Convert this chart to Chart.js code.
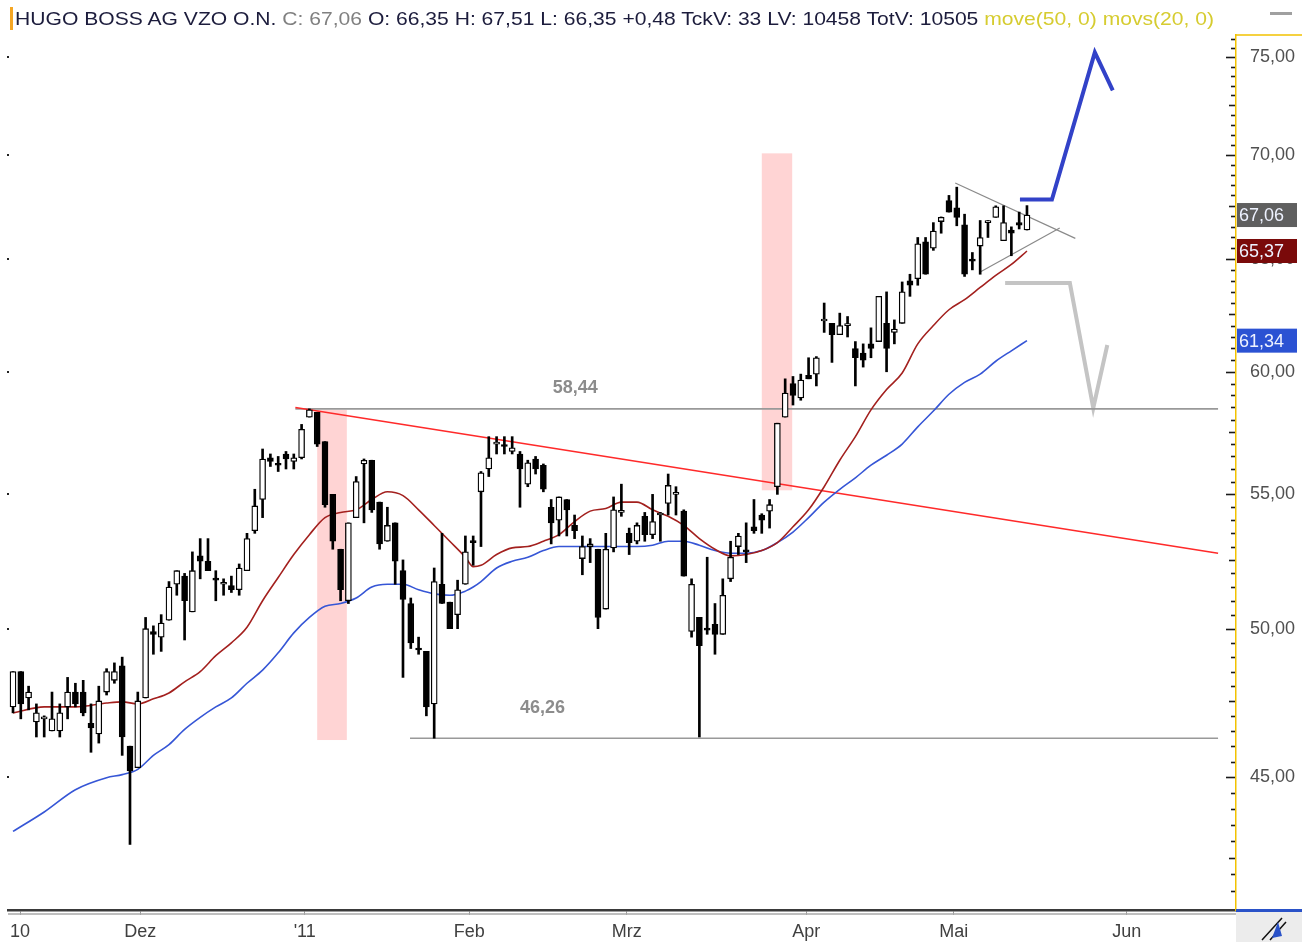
<!DOCTYPE html>
<html>
<head>
<meta charset="utf-8">
<script src="https://cdn.jsdelivr.net/npm/chart.js@4.4.1/dist/chart.umd.min.js"></script>
<style>
  body { margin: 0; background: #fff; }
  #wrap { position: relative; width: 1302px; height: 942px; }
  #head {
    position: absolute; left: 10px; top: 7px;
    border-left: 3px solid #f5a623; padding-left: 2px;
    font: 19px "Liberation Sans", Arial, sans-serif; line-height: 23px;
    white-space: nowrap; color: #1c1c3c; transform-origin: 0 0;
  }
  #head .c { color: #808080; }
  #head .m { color: #d6cc30; }
</style>
</head>
<body>
<div id="wrap">
  <canvas id="chart"></canvas>
  <div id="head"><span id="headText">HUGO BOSS AG VZO O.N. <span class="c">C: 67,06</span> O: 66,35 H: 67,51 L: 66,35 +0,48 TckV: 33 LV: 10458 TotV: 10505 <span class="m">move(50, 0) movs(20, 0)</span></span></div>
</div>
<script>
// daily candles, index 0 = first visible session
const opens = [47.3,48.5,47.6,46.8,46.9,46.5,46.5,47.3,47.8,47.8,46.75,46.4,47.8,48.2,48.7,46.0,45.3,47.6,49.9,49.7,
  50.3,51.6,51.9,50.6,52.65,52.45,51.8,51.6,51.55,51.4,52.1,53.6,54.8,56.45,56.2,56.6,56.3,56.45,58.1,58.3,
  57.1,55.0,52.9,51.0,54.1,56.2,56.35,54.7,53.2,53.9,52.1,50.9,49.3,49.2,47.4,51.6,50.95,50.5,51.6,53.2,
  55.1,56.0,57.0,56.95,56.7,56.6,55.4,56.4,56.15,54.5,54.0,54.8,53.8,52.55,53.0,52.9,50.7,52.95,54.3,53.5,
  53.2,54.15,53.45,54.2,54.65,55.0,54.35,49.9,50.4,50.0,50.15,49.8,51.8,53.0,52.85,53.75,54.2,54.35,55.3,58.1,
  59.5,58.9,59.85,59.9,62.2,62.1,61.6,62.0,61.0,60.8,61.2,61.3,62.1,61.7,62.1,64.0,64.1,65.8,65.5,66.75,
  67.75,67.4,66.6,65.0,65.6,66.7,66.95,65.85,66.35,66.7,66.35];
const highs = [48.5,48.5,48.0,47.4,47.0,47.8,47.4,48.3,48.1,48.2,47.4,48.0,48.6,48.8,49.0,46.0,47.8,50.4,50.1,50.5,
  51.7,52.1,52.0,52.8,53.3,53.3,52.1,51.8,51.9,52.35,53.5,55.2,56.8,56.6,56.5,56.7,56.6,57.8,58.44,58.3,
  57.1,55.0,52.9,53.9,55.7,56.4,56.35,54.7,54.5,53.9,52.5,51.1,49.7,49.2,52.2,53.5,50.95,51.75,53.4,53.4,
  55.9,57.3,57.3,57.3,57.3,56.7,56.35,56.5,56.2,54.8,54.9,54.8,54.2,53.4,53.3,52.9,53.5,54.9,55.4,53.7,
  53.9,54.3,55.0,54.3,55.8,55.3,54.4,51.8,50.4,52.6,50.9,51.8,53.2,53.5,53.9,54.8,54.25,54.8,57.85,59.7,
  59.8,59.9,60.6,60.65,63.0,62.1,62.55,62.4,61.3,61.2,61.9,63.3,63.5,62.25,63.95,64.3,66.0,66.0,66.7,66.97,
  68.0,68.4,67.1,65.3,66.8,66.8,67.5,67.5,66.5,67.2,67.51];
const lows = [47.1,46.9,47.2,46.3,46.3,46.5,46.3,46.9,47.3,47.0,45.8,46.1,47.7,48.1,45.7,42.9,45.3,47.6,49.1,49.2,
  50.3,51.2,49.6,50.6,51.8,52.1,51.0,51.2,51.3,51.2,52.1,53.5,54.1,56.1,55.9,56.0,56.0,56.4,58.1,56.9,
  54.5,52.9,51.0,50.9,54.1,53.9,54.3,52.9,53.2,51.6,48.3,49.3,49.1,47.0,46.26,50.9,50.0,50.0,51.6,52.3,
  53.0,55.7,56.6,56.6,56.6,54.5,55.3,55.8,55.1,53.1,53.4,53.4,53.3,51.95,52.4,50.0,50.7,52.8,54.15,52.7,
  53.1,53.2,53.3,53.2,54.2,54.2,51.9,49.7,46.3,49.8,49.1,49.8,51.7,52.7,52.4,53.5,53.5,53.7,55.0,58.1,
  58.6,58.8,59.7,59.4,61.7,60.4,61.6,61.5,59.4,60.2,60.6,61.3,60.0,61.2,62.1,63.3,63.8,64.3,65.4,66.2,
  67.2,66.55,64.2,64.5,64.3,66.0,66.95,65.85,65.15,66.4,66.35];
const closes = [48.5,47.4,47.8,47.1,46.95,46.9,47.1,47.8,47.4,47.1,46.6,47.5,48.5,48.5,46.3,45.2,47.5,50.0,49.8,50.2,
  51.5,52.1,51.0,52.1,52.45,52.1,51.75,51.6,51.4,52.2,53.3,54.55,56.4,56.3,56.15,56.4,56.45,57.6,58.4,57.0,
  54.6,53.2,51.4,53.9,55.5,56.35,54.4,53.1,53.8,52.45,51.05,49.5,49.25,47.3,51.7,50.9,50.0,51.4,52.8,53.15,
  55.85,56.45,57.0,56.9,56.85,56.0,56.25,56.0,55.2,53.9,54.9,54.4,53.6,53.0,53.1,50.4,52.9,54.4,54.3,53.15,
  53.8,53.45,53.95,54.25,55.35,55.0,51.9,51.6,49.4,49.95,49.8,51.2,52.6,53.4,52.8,53.6,54.0,54.6,57.85,59.1,
  59.0,59.65,59.7,60.6,62.25,61.6,62.0,62.0,60.6,60.5,61.0,63.3,61.0,61.85,63.5,63.8,65.7,64.3,66.3,66.95,
  67.2,66.95,64.3,64.9,66.0,66.75,67.45,66.7,66.2,66.58,67.06];

// moving averages at these session indexes
const maIndex = [0,4,8,12,14,16,18,20,22,24,26,28,30,32,34,36,38,40,42,44,46,48,50,52,54,56,58,59,60,62,
  64,66,68,70,72,74,76,78,80,82,84,86,88,90,92,94,96,98,100,102,104,106,108,110,112,114,116,118,120,122,124,126,128,130];
const ma20 = [47.1,47.3,47.3,47.43,47.47,47.4,47.57,47.77,48.15,48.5,49.05,49.5,50.05,51.0,51.85,52.7,53.45,54.1,54.3,54.4,
  54.8,55.1,54.95,54.4,53.8,53.2,52.6,52.25,52.3,52.7,52.95,53.0,53.2,53.45,53.95,54.35,54.45,54.7,54.7,54.4,
  54.15,53.8,53.3,52.9,52.65,52.7,52.85,53.15,53.75,54.4,55.3,56.35,57.3,58.4,59.25,59.95,61.2,62.0,62.7,63.15,
  63.7,64.25,64.75,65.37];
const ma50 = [43.3,43.9,44.6,44.98,45.08,45.25,45.7,46.05,46.55,46.95,47.3,47.6,48.1,48.55,49.15,49.85,50.4,50.8,50.9,51.1,
  51.5,51.6,51.6,51.4,51.25,51.2,51.35,51.5,51.7,52.2,52.45,52.6,52.85,53.0,53.0,53.0,53.0,53.0,53.0,53.05,
  53.2,53.2,53.05,52.85,52.75,52.75,52.85,53.15,53.55,54.1,54.7,55.2,55.65,56.15,56.55,57.0,57.7,58.35,59.05,59.55,
  59.9,60.45,60.9,61.34];

// axis labels
const monthTicks = [0.9, 16.3, 37.4, 58.5, 78.7, 101.7, 120.6, 142.8];
const monthLabels = ['10', 'Dez', "'11", 'Feb', 'Mrz', 'Apr', 'Mai', 'Jun'];
const priceTicks = [45, 50, 55, 60, 65, 70, 75];

// drawn annotations: [session index, price]
const resistance = [[36.2, 58.44], [154.5, 58.44]];
const support = [[50.9, 46.26], [154.5, 46.26]];
const trendLine = [[36.2, 58.5], [154.5, 52.75]];
const triUpper = [[120.8, 68.6], [136.2, 65.96]];
const triLower = [[124.0, 64.4], [134.2, 66.45]];
const blueArrow = [[129.1, 67.8], [133.2, 67.8], [138.7, 75.26], [141.0, 73.26]];
const grayArrow = [[127.2, 63.9], [135.5, 63.9], [138.5, 58.48], [140.3, 61.15]];
// pink zones: [from idx, to idx, low, high]
const zones = [[39.0, 42.8, 46.2, 58.4], [96.0, 99.9, 55.16, 70.06]];
const levelTexts = [['58,44', 72.1, 59.31], ['46,26', 67.9, 47.26]];
const lastMarks = [[67.06, '#5f5f5f'], [65.37, '#7a0a0a'], [61.34, '#2b52d3']];

const fmt = v => v.toFixed(2).replace('.', ',');
const pts = arr => arr.map(([x, y]) => ({ x, y }));

const decor = {
  id: 'decor',
  beforeDatasetsDraw(chart) {
    const { ctx, scales: { x, y } } = chart;
    ctx.save();
    ctx.fillStyle = '#ffd4d4';
    zones.forEach(([a, b, lo, hi]) => {
      const x0 = x.getPixelForValue(a), x1 = x.getPixelForValue(b);
      const y0 = y.getPixelForValue(hi), y1 = y.getPixelForValue(lo);
      ctx.fillRect(x0, y0, x1 - x0, y1 - y0);
    });
    ctx.restore();
  },
  afterDraw(chart) {
    const { ctx, chartArea: ca, scales: { x, y } } = chart;
    ctx.save();
    // level texts
    ctx.font = 'bold 18px "Liberation Sans", Arial, sans-serif';
    ctx.fillStyle = '#8c8c8c';
    ctx.textAlign = 'center';
    ctx.textBaseline = 'middle';
    levelTexts.forEach(([t, i, p]) => ctx.fillText(t, x.getPixelForValue(i), y.getPixelForValue(p)));

    // right axis tick marks (inside)
    ctx.strokeStyle = '#1a1a1a';
    ctx.lineWidth = 1.6;
    for (let k = 82; k <= 152; k++) {
      const v = k / 2;
      const py = Math.round(y.getPixelForValue(v)) + 0.5;
      if (py < ca.top + 2 || py > ca.bottom - 2) continue;
      const len = v % 5 === 0 ? 9 : (v % 2.5 === 0 ? 6 : 4);
      ctx.beginPath();
      ctx.moveTo(ca.right - len - 1, py);
      ctx.lineTo(ca.right - 1, py);
      ctx.stroke();
    }
    // left dots
    ctx.fillStyle = '#222';
    priceTicks.forEach(v => ctx.fillRect(ca.left - 1, Math.round(y.getPixelForValue(v)) - 1, 2, 2));

    // yellow top corner of axis
    ctx.strokeStyle = '#f2c200';
    ctx.lineWidth = 1.5;
    ctx.beginPath();
    ctx.moveTo(ca.right, ca.top);
    ctx.lineTo(1302, ca.top);
    ctx.stroke();

    // last value boxes
    ctx.font = '18px "Liberation Sans", Arial, sans-serif';
    ctx.textAlign = 'left';
    ctx.textBaseline = 'middle';
    lastMarks.forEach(([v, c]) => {
      const py = y.getPixelForValue(v);
      ctx.fillStyle = c;
      ctx.fillRect(ca.right + 1, py - 12, 60, 24);
      ctx.fillStyle = '#eef2ff';
      ctx.fillText(fmt(v), ca.right + 3, py + 1);
    });

    // second line under time axis
    ctx.strokeStyle = '#a8a8a8';
    ctx.lineWidth = 1.5;
    ctx.beginPath();
    ctx.moveTo(ca.left, ca.bottom + 4);
    ctx.lineTo(ca.right, ca.bottom + 4);
    ctx.stroke();

    // corner widget
    ctx.fillStyle = '#ececec';
    ctx.fillRect(ca.right, ca.bottom, 1302 - ca.right, 942 - ca.bottom);
    ctx.fillStyle = '#2a52c8';
    ctx.fillRect(ca.right, ca.bottom - 1, 1302 - ca.right, 3);
    ctx.strokeStyle = '#111';
    ctx.lineWidth = 1.5;
    ctx.beginPath();
    ctx.moveTo(1262, 940); ctx.lineTo(1282, 918);
    ctx.moveTo(1270, 940); ctx.lineTo(1286, 922);
    ctx.stroke();
    ctx.fillStyle = '#2a52c8';
    ctx.beginPath();
    ctx.moveTo(1272, 938); ctx.lineTo(1278, 922); ctx.lineTo(1282, 936); ctx.closePath();
    ctx.fill();

    // top right dash
    ctx.fillStyle = '#a0a0a0';
    ctx.fillRect(1270, 12, 22, 3);
    ctx.restore();
  }
};

const idx = opens.map((_, i) => i);
const lineDs = (data, color, width) => ({
  type: 'line', data: pts(data), borderColor: color, borderWidth: width,
  pointRadius: 0, tension: 0, fill: false
});

Chart.defaults.font.family = '"Liberation Sans", Arial, sans-serif';

new Chart(document.getElementById('chart'), {
  type: 'bar',
  data: {
    datasets: [
      {
        data: idx.map(i => ({ x: i, y: [opens[i], closes[i]] })),
        backgroundColor: idx.map(i => closes[i] >= opens[i] ? '#ffffff' : '#000000'),
        borderColor: '#000', borderWidth: 1.3, borderSkipped: false,
        barThickness: 6, minBarLength: 2, grouped: false
      },
      {
        data: idx.map(i => ({ x: i, y: [lows[i], highs[i]] })),
        backgroundColor: '#000', borderWidth: 0,
        barThickness: 2, grouped: false
      },
      {
        type: 'line', data: maIndex.map((i, k) => ({ x: i, y: ma20[k] })),
        borderColor: '#a3201e', borderWidth: 1.6, pointRadius: 0, cubicInterpolationMode: 'monotone'
      },
      {
        type: 'line', data: maIndex.map((i, k) => ({ x: i, y: ma50[k] })),
        borderColor: '#3656d6', borderWidth: 1.6, pointRadius: 0, cubicInterpolationMode: 'monotone'
      },
      lineDs(trendLine, '#ff2a2a', 1.6),
      lineDs(resistance, '#999999', 1.6),
      lineDs(support, '#999999', 1.6),
      lineDs(triUpper, '#8a8a8a', 1.2),
      lineDs(triLower, '#8a8a8a', 1.2),
      lineDs(blueArrow, '#3242c8', 4),
      lineDs(grayArrow, '#c4c4c4', 4)
    ]
  },
  options: {
    responsive: true,
    maintainAspectRatio: false,
    animation: false,
    layout: { padding: { left: 8, top: 35, right: 0, bottom: 0 } },
    plugins: { legend: { display: false }, tooltip: { enabled: false } },
    scales: {
      x: {
        type: 'linear', min: -0.641, max: 156.8, offset: false,
        afterBuildTicks: s => { s.ticks = monthTicks.map(v => ({ value: v })); },
        afterFit: s => { s.height = 32; },
        ticks: {
          autoSkip: false, maxRotation: 0, padding: 6, color: '#404040',
          font: { size: 18 },
          callback: v => monthLabels[monthTicks.indexOf(v)] ?? ''
        },
        grid: { display: true, offset: false, drawOnChartArea: false, drawTicks: true, tickLength: 5, color: '#999' },
        border: { display: true, color: '#3a3a3a', width: 2.5 }
      },
      y: {
        type: 'logarithmic', position: 'right', min: 40.95, max: 76.2,
        afterBuildTicks: s => { s.ticks = priceTicks.map(v => ({ value: v })); },
        afterFit: s => { s.width = 66; },
        ticks: { padding: 6, color: '#505050', font: { size: 18 }, callback: v => fmt(v) },
        grid: { display: false },
        border: { display: true, color: '#f2c200', width: 1.5 }
      }
    }
  },
  plugins: [decor]
});

// fit header line to the reference width
const ht = document.getElementById('headText');
const w = ht.getBoundingClientRect().width;
ht.style.display = 'inline-block';
ht.style.transformOrigin = '0 0';
ht.style.transform = 'scaleX(' + (1199 / w).toFixed(4) + ')';
</script>
</body>
</html>
